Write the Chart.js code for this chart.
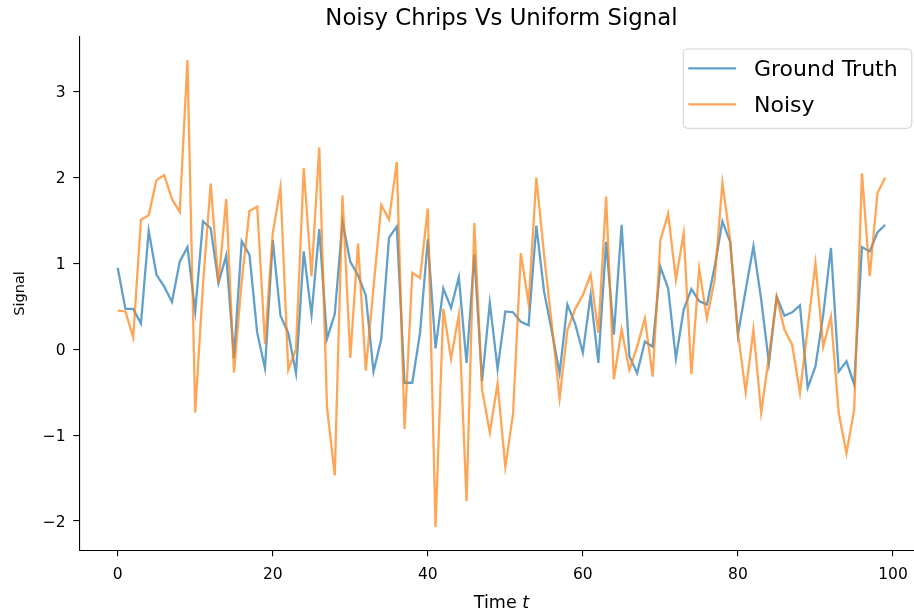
<!DOCTYPE html>
<html><head><meta charset="utf-8">
<script src="https://cdn.jsdelivr.net/npm/chart.js@4.4.0/dist/chart.umd.min.js"></script>
<style>html,body{margin:0;padding:0;background:#fff;overflow:hidden;width:914px;height:614px}</style>
</head><body>
<canvas id="c" width="925" height="614" style="display:block;width:925px;height:614px"></canvas>
<script>
const TITLE = 'Noisy Chrips Vs Uniform Signal';
const X_LABEL_TEXT = 'Time ';
const X_LABEL_VAR = 't';
const Y_LABEL = 'Signal';
const SERIES_NAMES = ['Ground Truth', 'Noisy'];

const timeSteps = [0,1,2,3,4,5,6,7,8,9,10,11,12,13,14,15,16,17,18,19,20,21,22,23,24,25,26,27,28,29,30,31,32,33,34,35,36,37,38,39,40,41,42,43,44,45,46,47,48,49,50,51,52,53,54,55,56,57,58,59,60,61,62,63,64,65,66,67,68,69,70,71,72,73,74,75,76,77,78,79,80,81,82,83,84,85,86,87,88,89,90,91,92,93,94,95,96,97,98,99];

const groundTruth = [0.95,0.47,0.47,0.30,1.38,0.87,0.73,0.55,1.02,1.19,
0.44,1.49,1.41,0.77,1.09,-0.10,1.26,1.10,0.19,-0.22,
1.27,0.39,0.19,-0.28,1.14,0.40,1.40,0.12,0.41,1.49,
1.02,0.86,0.63,-0.26,0.12,1.30,1.43,-0.39,-0.39,0.19,
1.28,0.01,0.71,0.48,0.84,-0.16,1.10,-0.37,0.54,-0.23,
0.44,0.43,0.32,0.28,1.44,0.67,0.21,-0.28,0.52,0.30,
-0.04,0.63,-0.16,1.25,0.17,1.45,-0.08,-0.28,0.09,0.03,
0.96,0.71,-0.11,0.46,0.70,0.56,0.52,0.96,1.49,1.25,
0.17,0.69,1.20,0.58,-0.16,0.61,0.39,0.43,0.51,-0.45,
-0.20,0.40,1.18,-0.26,-0.14,-0.41,1.19,1.14,1.36,1.45];

const noisy = [0.45,0.44,0.14,1.51,1.56,1.97,2.03,1.75,1.60,3.37,
-0.74,0.75,1.93,0.77,1.75,-0.27,0.80,1.61,1.66,0.06,
1.35,1.89,-0.24,0.00,2.11,0.85,2.35,-0.68,-1.47,1.79,
-0.10,1.23,-0.25,0.72,1.68,1.51,2.18,-0.93,0.89,0.83,
1.64,-2.07,0.47,-0.11,0.40,-1.77,1.47,-0.47,-0.97,-0.40,
-1.37,-0.75,1.12,0.53,2.00,1.10,0.28,-0.57,0.22,0.47,
0.63,0.87,0.19,1.78,-0.35,0.23,-0.24,0.03,0.36,-0.32,
1.27,1.58,0.81,1.35,-0.29,0.94,0.36,0.81,1.94,1.27,
0.19,-0.50,0.23,-0.74,-0.08,0.61,0.23,0.05,-0.51,0.25,
1.00,0.03,0.38,-0.74,-1.21,-0.70,2.05,0.85,1.82,2.00];

const X_TICKS = [0,20,40,60,80,100];
const Y_TICKS = [-2,-1,0,1,2,3];

const FONT = '"DejaVu Sans", sans-serif';
const TICK_PX = 15.5;

// matplotlib-like 5% margins
const allY = groundTruth.concat(noisy);
const yLo = Math.min(...allY), yHi = Math.max(...allY);
const yPad = 0.05 * (yHi - yLo);
const xLo = timeSteps[0], xHi = timeSteps[timeSteps.length - 1];
const xPad = 0.05 * (xHi - xLo);

const toPoints = arr => timeSteps.map((t, i) => ({x: t, y: arr[i]}));
const fmt = v => (v < 0 ? '\u2212' + Math.abs(v) : String(v));

const annotate = {
  id: 'annotate',
  afterDraw(chart) {
    const ctx = chart.ctx, a = chart.chartArea;
    const sx = chart.scales.x, sy = chart.scales.y;
    const cx = (a.left + a.right) / 2;
    ctx.save();
    ctx.fillStyle = '#000';
    ctx.textBaseline = 'alphabetic';
    // tick labels
    ctx.font = TICK_PX + 'px ' + FONT;
    ctx.textAlign = 'center';
    X_TICKS.forEach(v => ctx.fillText(fmt(v), sx.getPixelForValue(v), 579));
    ctx.textAlign = 'right';
    Y_TICKS.forEach(v => ctx.fillText(fmt(v), 65.5, sy.getPixelForValue(v) + 5.6));
    // title
    ctx.font = '22.8px ' + FONT;
    ctx.textAlign = 'center';
    ctx.fillText(TITLE, cx, 25);
    // x label
    const XL = '17.5px ';
    ctx.font = XL + FONT;
    const w1 = ctx.measureText(X_LABEL_TEXT).width;
    ctx.font = 'italic ' + XL + FONT;
    const w2 = ctx.measureText(X_LABEL_VAR).width;
    const x0 = cx - (w1 + w2) / 2;
    ctx.textAlign = 'left';
    ctx.font = XL + FONT;
    ctx.fillText(X_LABEL_TEXT, x0, 607.5);
    ctx.font = 'italic ' + XL + FONT;
    ctx.fillText(X_LABEL_VAR, x0 + w1, 607.5);
    // y label
    ctx.save();
    ctx.translate(24, (a.top + a.bottom) / 2);
    ctx.rotate(-Math.PI / 2);
    ctx.textAlign = 'center';
    ctx.font = '14.5px ' + FONT;
    ctx.fillText(Y_LABEL, 0, 0);
    ctx.restore();
    // legend
    const bx = 683.3, by = 49, bw = 228.5, bh = 79.3;
    ctx.beginPath();
    ctx.roundRect(bx, by, bw, bh, 4);
    ctx.fillStyle = 'rgba(255,255,255,0.8)';
    ctx.fill();
    ctx.strokeStyle = '#d0d0d0';
    ctx.lineWidth = 1;
    ctx.stroke();
    chart.data.datasets.forEach((ds, k) => {
      const yy = 68.3 + k * 36;
      ctx.strokeStyle = ds.borderColor;
      ctx.lineWidth = ds.borderWidth;
      ctx.beginPath();
      ctx.moveTo(688.3, yy);
      ctx.lineTo(736, yy);
      ctx.stroke();
      ctx.fillStyle = '#000';
      ctx.font = '22px ' + FONT;
      ctx.textAlign = 'left';
      ctx.textBaseline = 'alphabetic';
      ctx.fillText(ds.label, 754, yy + 8);
    });
    ctx.restore();
  }
};

const axisCommon = {
  grid: {display: true, drawOnChartArea: false, drawTicks: true, tickLength: 6, color: '#000', lineWidth: 1.1},
  border: {display: true, color: '#000', width: 1.1}
};

new Chart(document.getElementById('c'), {
  type: 'line',
  data: {
    datasets: [
      {label: SERIES_NAMES[0], data: toPoints(groundTruth), borderColor: 'rgba(31,119,180,0.7)', borderWidth: 2.3, pointRadius: 0, tension: 0, fill: false, order: 2},
      {label: SERIES_NAMES[1], data: toPoints(noisy), borderColor: 'rgba(255,127,14,0.7)', borderWidth: 2.3, pointRadius: 0, tension: 0, fill: false, order: 1}
    ]
  },
  options: {
    responsive: false,
    animation: false,
    layout: {padding: {left: 0, right: 1.4, top: 36.6, bottom: 0}},
    plugins: {legend: {display: false}, tooltip: {enabled: false}, title: {display: false}},
    scales: {
      x: Object.assign({
        type: 'linear', min: xLo - xPad, max: xHi + xPad,
        afterFit(s) { s.height = 614 - 550.3; },
        afterBuildTicks(s) { s.ticks = X_TICKS.map(v => ({value: v})); },
        ticks: {display: false}
      }, axisCommon),
      y: Object.assign({
        type: 'linear', min: yLo - yPad, max: yHi + yPad,
        afterFit(s) { s.width = 79.3; },
        afterBuildTicks(s) { s.ticks = Y_TICKS.map(v => ({value: v})); },
        ticks: {display: false}
      }, axisCommon)
    }
  },
  plugins: [annotate]
});
</script>
</body></html>
